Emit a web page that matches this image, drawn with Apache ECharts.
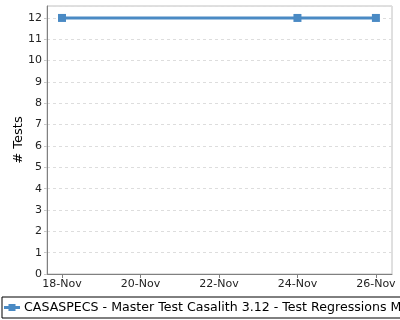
<!DOCTYPE html>
<html><head><meta charset="utf-8">
<script src="https://cdn.jsdelivr.net/npm/echarts@6/dist/echarts.min.js"></script>
<style>html,body{margin:0;padding:0;background:#fff}#c{width:400px;height:320px}</style>
</head><body><div id="c"></div>
<script>
const days = [18, 24, 26];
const tests = [12, 12, 12];
const xTickDays = [18, 20, 22, 24, 26];
const monthLabel = 'Nov';
const seriesName = 'CASASPECS - Master Test Casalith 3.12 - Test Regressions Mac OSX';
const yTitle = '# Tests';

const chart = echarts.init(document.getElementById('c'), null, {renderer: 'canvas'});
chart.setOption({
  animation: false,
  backgroundColor: '#fff',
  textStyle: {fontFamily: 'DejaVu Sans'},
  grid: {left: 47, right: 8, top: 6, bottom: 46, show: true, borderColor: '#c0c0c0', borderWidth: 1, outerBoundsMode: 'none', containLabel: false},
  xAxis: {
    type: 'value', min: 17.617, max: 26.41,
    splitLine: {show: false},
    axisLine: {lineStyle: {color: '#808080', width: 1}},
    axisTick: {show: true, customValues: xTickDays, length: 4, lineStyle: {color: '#808080'}},
    axisLabel: {customValues: xTickDays, formatter: v => v + '-' + monthLabel, color: '#222', fontSize: 11, margin: 5, fontFamily: 'DejaVu Sans'}
  },
  yAxis: {
    type: 'value', min: 0, max: 12.56, interval: 1,
    name: yTitle, nameLocation: 'middle', nameGap: 22, nameRotate: 90, nameMoveOverlap: false,
    nameTextStyle: {fontSize: 13, color: '#000', fontFamily: 'DejaVu Sans'},
    axisLine: {show: true, lineStyle: {color: '#808080', width: 1}},
    axisTick: {show: true, length: 3, lineStyle: {color: '#c8c8c8'}},
    axisLabel: {showMaxLabel: false, color: '#222', fontSize: 11, margin: 5, fontFamily: 'DejaVu Sans'},
    splitLine: {show: true, lineStyle: {color: '#dddddd', type: [3, 3], width: 1}}
  },
  legend: {
    left: 2, bottom: 2, padding: [4, 2, 4, 2],
    borderColor: '#000', borderWidth: 1, borderRadius: 0,
    itemWidth: 16, itemHeight: 8, itemGap: 4,
    icon: 'path://M0,2.5L4.5,2.5L4.5,0.5L11.5,0.5L11.5,2.5L16,2.5L16,5.5L11.5,5.5L11.5,7.5L4.5,7.5L4.5,5.5L0,5.5Z',
    textStyle: {fontSize: 12.6, color: '#000', fontFamily: 'DejaVu Sans', padding: [0, 0, 0, -1]},
    data: [seriesName]
  },
  series: [{
    name: seriesName, type: 'line',
    data: days.map((d, i) => [d, tests[i]]),
    symbol: 'rect', symbolSize: 8,
    lineStyle: {color: '#4a8ac4', width: 3},
    itemStyle: {color: '#4a8ac4'}
  }]
});
</script></body></html>
